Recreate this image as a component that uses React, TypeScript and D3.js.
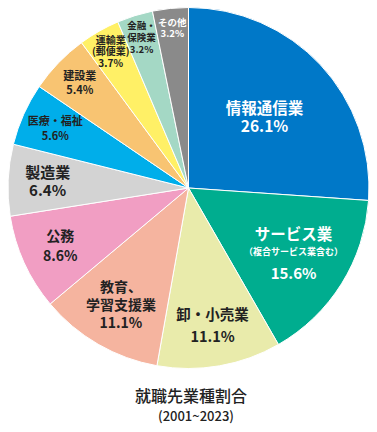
import React from "react";
import * as d3 from "d3";

const categories = [
  "情報通信業",
  "サービス業",
  "卸・小売業",
  "教育、学習支援業",
  "公務",
  "製造業",
  "医療・福祉",
  "建設業",
  "運輸業(郵便業)",
  "金融・保険業",
  "その他",
];
const values = [26.1, 15.6, 11.1, 11.1, 8.6, 6.4, 5.6, 5.4, 3.7, 3.2, 3.2];
const colors = [
  "#0078C8",
  "#00AD8F",
  "#E9EBAB",
  "#F5B49F",
  "#F19EC3",
  "#D3D3D3",
  "#00AEEA",
  "#F8C472",
  "#FFF066",
  "#A4D8C5",
  "#8A8A8A",
];
// label lines per slice: [text, fontSize, dy from block center]
const labelLines: [string, number, number][][] = [
  [["情報通信業", 15.5, -9], ["26.1%", 15.5, 9]],
  [["サービス業", 15.5, -19], ["（複合サービス業含む）", 9, -2], ["15.6%", 15, 20]],
  [["卸・小売業", 14.5, -11], ["11.1%", 14.5, 11]],
  [["教育、", 14, -18], ["学習支援業", 14, 0], ["11.1%", 14, 18]],
  [["公務", 14, -10], ["8.6%", 14, 10]],
  [["製造業", 15, -9], ["6.4%", 15, 9]],
  [["医療・福祉", 11, -7.5], ["5.6%", 11, 7.5]],
  [["建設業", 11, -7], ["5.4%", 11, 7]],
  [["運輸業", 10, -11.5], ["(郵便業)", 10, 0], ["3.7%", 10, 11.5]],
  [["金融・", 9.5, -12], ["保険業", 9.5, 0], ["3.2%", 9.5, 12]],
  [["その他", 9.5, -5.5], ["3.2%", 9.5, 5.5]],
];
const labelRadius = [104, 124, 140, 135, 141, 141, 146, 151, 157, 158, 161];
const labelColors = ["#fff", "#fff", "#222", "#222", "#222", "#222", "#222", "#222", "#222", "#222", "#fff"];
const title = "就職先業種割合";
const subtitle = "(2001~2023)";

export default function App() {
  const W = 377;
  const H = 432;
  const cx = 188.5;
  const cy = 188;
  const R = 180.5;
  const pie = d3.pie<number>().sort(null).value((d) => d)(values);
  const arc = d3.arc<d3.PieArcDatum<number>>().innerRadius(0).outerRadius(R);
  const font = "'Noto Sans CJK JP', 'Noto Sans', sans-serif";
  return (
    <svg
      width={W}
      height={H}
      style={{ position: "absolute", left: 0, top: 0, background: "#fff" }}
    >
      <g transform={`translate(${cx},${cy})`}>
        {pie.map((p, i) => (
          <path
            key={categories[i]}
            d={arc(p) || ""}
            fill={colors[i]}
            stroke="#fff"
            strokeWidth={1}
          />
        ))}
        {pie.map((p, i) => {
          const mid = (p.startAngle + p.endAngle) / 2;
          const [x, y] = d3.pointRadial(mid, labelRadius[i]);
          return (
            <text
              key={"l" + i}
              transform={`translate(${x},${y})`}
              textAnchor="middle"
              fontFamily={font}
              fontWeight={700}
              fill={labelColors[i]}
            >
              {labelLines[i].map(([t, fs, dy], j) => (
                <tspan
                  key={j}
                  x={0}
                  y={dy + fs * 0.36}
                  fontSize={fs}
                >
                  {t}
                </tspan>
              ))}
            </text>
          );
        })}
      </g>
      <text
        x={191}
        y={395}
        textAnchor="middle"
        dominantBaseline="central"
        fontFamily={font}
        fontWeight={500}
        fontSize={16}
        fill="#222"
      >
        {title}
      </text>
      <text
        x={196}
        y={415}
        textAnchor="middle"
        dominantBaseline="central"
        fontFamily={font}
        fontWeight={500}
        fontSize={13}
        fill="#222"
      >
        {subtitle}
      </text>
    </svg>
  );
}
